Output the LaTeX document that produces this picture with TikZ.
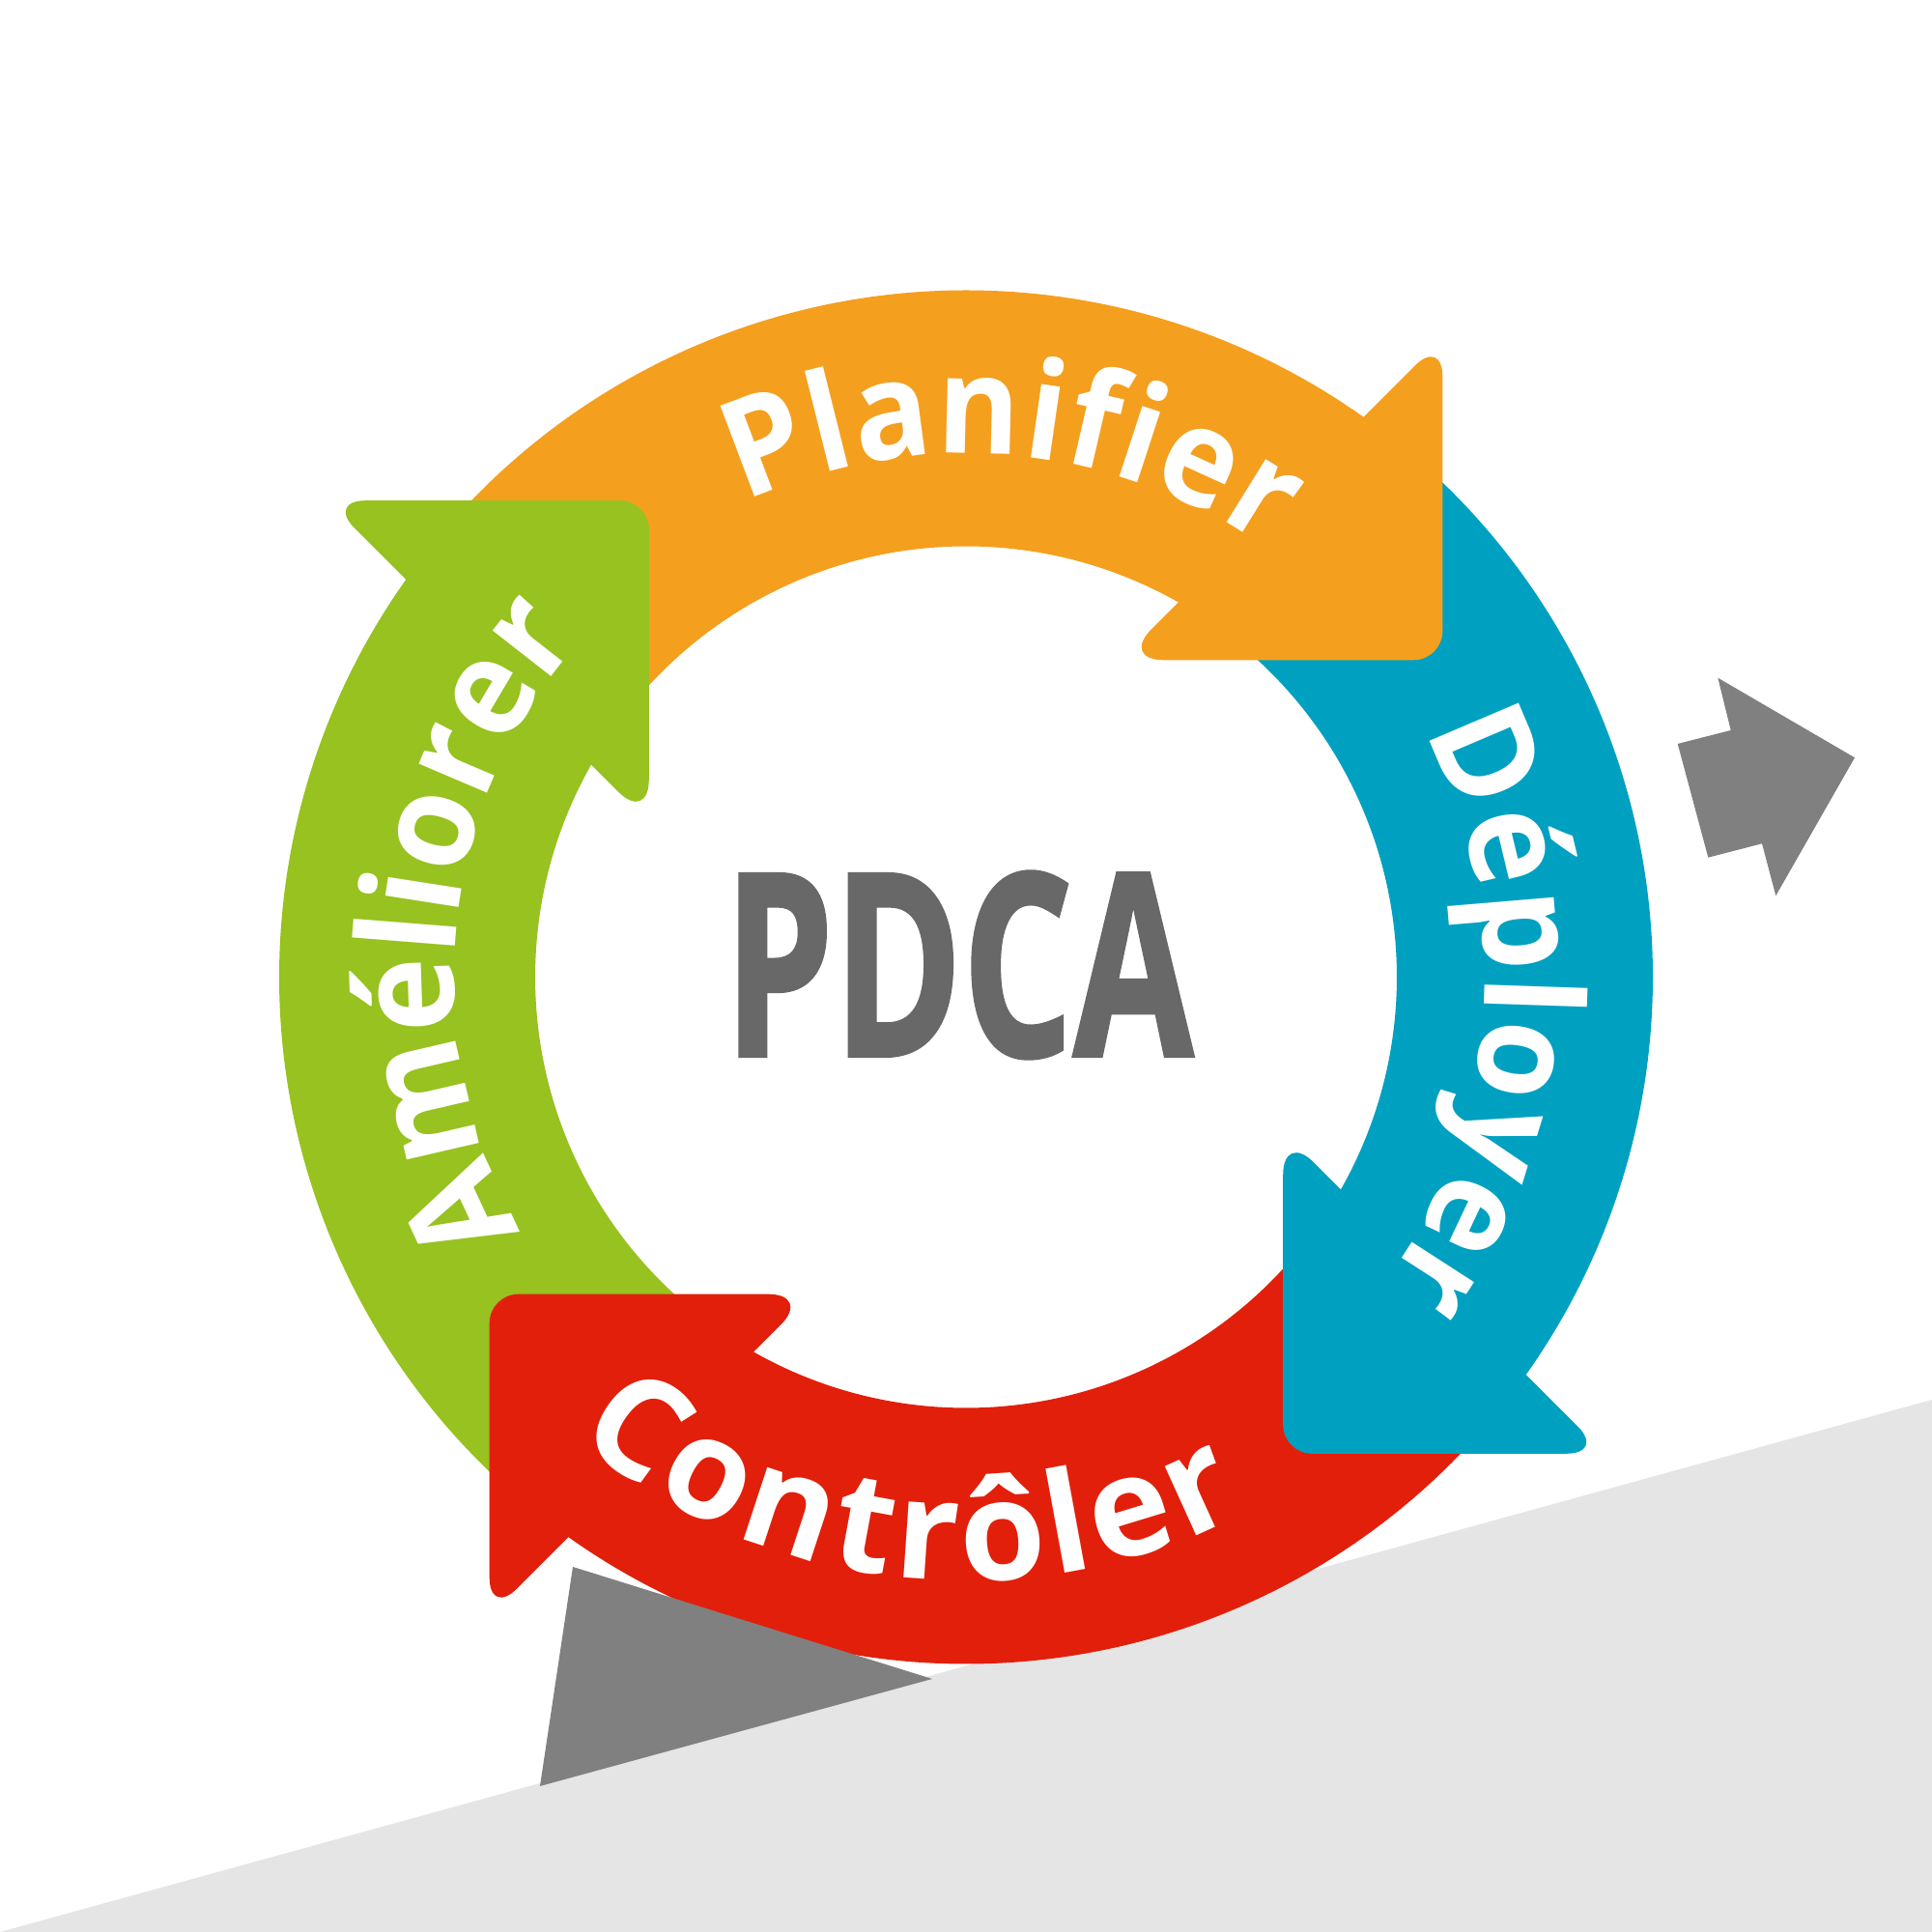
\documentclass[tikz,border=0pt]{standalone}
\usepackage{fontspec}
\newfontfamily\lblfont{Open Sans}[FakeStretch=0.93]
\newfontfamily\lblwidefont{Open Sans}
\newfontfamily\pdcafont{Open Sans}[BoldFeatures={FakeBold=1.5}]
\usetikzlibrary{decorations.text}
\definecolor{pdcaorange}{RGB}{245,159,30}
\definecolor{pdcablue}{RGB}{0,161,192}
\definecolor{pdcared}{RGB}{226,31,10}
\definecolor{pdcagreen}{RGB}{151,194,31}
\definecolor{wedgegray}{RGB}{128,128,128}
\definecolor{floorgray}{RGB}{229,229,229}
\definecolor{titlegray}{RGB}{104,104,104}
\newcommand\lblfmt{\color{white}\fontsize{40}{48}\selectfont\lblfont\bfseries}
\newcommand\lblwidefmt{\color{white}\fontsize{41}{48}\selectfont\lblwidefont\bfseries}
% ring piece: from under the previous head to under its own head
\newcommand\ringpiece[2]{%
  \begin{scope}[shift={(O)},rotate=#1]
    \fill[#2] (143.1:7.11) arc[start angle=143.1,end angle=51.6,radius=7.11]
      -- (57.5:4.46) arc[start angle=57.5,end angle=149.0,radius=4.46] -- cycle;
  \end{scope}}
% arrow head (right-angled triangle with rounded corners)
\newcommand\headpiece[2]{%
  \begin{scope}[shift={(O)},rotate=#1]
    \fill[#2] (3.27,4.95) [rounded corners=4mm] -- (4.933,6.615)
      [rounded corners=3mm] -- (4.933,3.282)
      [rounded corners=4.5mm] -- (1.60,3.282) [sharp corners] -- cycle;
  \end{scope}}
\begin{document}
\begin{tikzpicture}
\useasboundingbox (0,0) rectangle (20,20);
\fill[white] (0,0) rectangle (20,20);
\fill[floorgray] (0,0) -- (20,5.51) -- (20,0) -- cycle;
\coordinate (O) at (10,9.885);
% ring pieces
\ringpiece{0}{pdcaorange}
\ringpiece{-90}{pdcablue}
\ringpiece{180}{pdcared}
\ringpiece{90}{pdcagreen}
% arrow heads
\headpiece{0}{pdcaorange}
\headpiece{-90}{pdcablue}
\headpiece{180}{pdcared}
\headpiece{90}{pdcagreen}
% wedge and side arrow
\fill[wedgegray] (5.93,3.78) -- (9.65,2.62) -- (5.59,1.51) -- cycle;
\fill[wedgegray] (17.783,12.983) -- (19.20,12.157) -- (18.383,10.727) -- (18.24,11.267)
  -- (17.683,11.123) -- (17.367,12.30) -- (17.917,12.44) -- cycle;
% labels
\path[decorate, decoration={text along path, text align=fit to path, text={|\lblfmt|Planifier}}]
  ([shift={(115:5.42)}]O) arc[start angle=115,end angle=55,radius=5.42];
\path[decorate, decoration={text along path, text align=fit to path, text={|\lblfmt|Déployer}}]
  ([shift={(28.2:5.37)}]O) arc[start angle=28.2,end angle=-36,radius=5.37];
\path[decorate, decoration={text along path, text align=fit to path, text={|\lblwidefmt|Contrôler}}]
  ([shift={(229.7:6.25)}]O) arc[start angle=229.7,end angle=297.4,radius=6.25];
\path[decorate, decoration={text along path, text align=fit to path, text={|\lblfmt|Améliorer}}]
  ([shift={(209.8:5.30)}]O) arc[start angle=209.8,end angle=138.8,radius=5.30];
\node[font=\fontsize{75}{80}\selectfont\pdcafont\bfseries, text=titlegray, xscale=0.684, inner sep=0] (pdca) at (9.925,10.01) {PDCA};
\end{tikzpicture}
\end{document}
